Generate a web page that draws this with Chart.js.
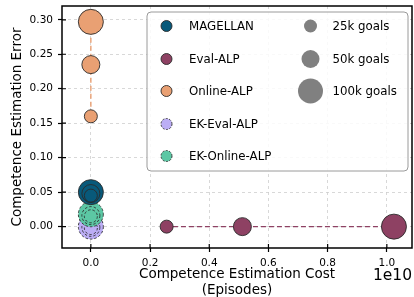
<!DOCTYPE html>
<html>
<head>
<meta charset="utf-8">
<script src="https://cdn.jsdelivr.net/npm/chart.js@4/dist/chart.umd.min.js"></script>
<style>
  html, body { margin: 0; padding: 0; background: #fff; }
  #wrap { width: 414px; height: 297px; }
</style>
</head>
<body>
<div id="wrap"><canvas id="chart" width="414" height="297"></canvas></div>
<script>
// ===============================
// DATA (points ordered 100k, 50k, 25k goals)
// ===============================
const goalSizes = ["100k goals", "50k goals", "25k goals"];

const magellanX = [0, 0, 0];
const magellanY = [0.050, 0.048, 0.045];

const evalAlpX = [1.024e10, 0.512e10, 0.256e10];
const evalAlpY = [0, 0, 0];

const onlineAlpX = [0, 0, 0];
const onlineAlpY = [0.297, 0.235, 0.160];

const ekEvalAlpX = [0, 0, 0];
const ekEvalAlpY = [0.000, -0.001, -0.002];

const ekOnlineAlpX = [0, 0, 0];
const ekOnlineAlpY = [0.018, 0.016, 0.015];

const xTickValues = [0, 0.2e10, 0.4e10, 0.6e10, 0.8e10, 1.0e10];
const yTickValues = [0, 0.05, 0.10, 0.15, 0.20, 0.25, 0.30];

// marker radius per goal count
const sizeRadius = { "25k goals": 6.5, "50k goals": 9, "100k goals": 12.5 };

const FONT = "'DejaVu Sans', sans-serif";

function toPoints(xs, ys) {
    return xs.map((x, i) => ({ x, y: ys[i] }));
}

function makeDataset(label, xs, ys, color, dashedEdge, order) {
    return {
        label,
        data: toPoints(xs, ys),
        showLine: true,
        borderColor: color,
        borderWidth: 1.4,
        borderDash: [5, 3],
        pointBackgroundColor: color,
        pointBorderColor: "#2b2b2b",
        pointBorderWidth: 0.9,
        pointRadius: goalSizes.map(s => sizeRadius[s]),
        pointHoverRadius: goalSizes.map(s => sizeRadius[s]),
        dashedEdge,
        order
    };
}

const series = [
    { label: "MAGELLAN", color: "#08597a", dashed: false },
    { label: "Eval-ALP", color: "#8e4163", dashed: false },
    { label: "Online-ALP", color: "#e9a073", dashed: false },
    { label: "EK-Eval-ALP", color: "#bcaef5", dashed: true },
    { label: "EK-Online-ALP", color: "#5cc7a4", dashed: true }
];

// ===============================
// PLUGINS
// ===============================
// dashed marker edges for EK datasets
const dashedEdges = {
    id: "dashedEdges",
    beforeDatasetDraw(chart, args) {
        const ds = chart.data.datasets[args.index];
        if (ds.dashedEdge) chart.ctx.setLineDash([2.5, 2]);
    },
    afterDatasetDraw(chart) {
        chart.ctx.setLineDash([]);
    }
};

// frame, inner tick parts, offset text and legend
const decorations = {
    id: "decorations",
    afterDraw(chart) {
        const ctx = chart.ctx;
        const a = chart.chartArea;
        const xs = chart.scales.x, ys = chart.scales.y;
        ctx.save();
        ctx.setLineDash([]);
        ctx.strokeStyle = "#000";
        ctx.lineWidth = 1.5;
        ctx.strokeRect(a.left, a.top, a.right - a.left, a.bottom - a.top);

        // ticks go through the spine
        ctx.lineWidth = 1.2;
        ctx.beginPath();
        xTickValues.forEach(v => {
            const px = xs.getPixelForValue(v);
            ctx.moveTo(px, a.bottom);
            ctx.lineTo(px, a.bottom - 4);
        });
        yTickValues.forEach(v => {
            const py = ys.getPixelForValue(v);
            ctx.moveTo(a.left, py);
            ctx.lineTo(a.left + 4, py);
        });
        ctx.stroke();

        // exponent text
        ctx.fillStyle = "#000";
        ctx.font = "15.5px " + FONT;
        ctx.textAlign = "right";
        ctx.textBaseline = "middle";
        ctx.fillText("1e10", a.right, 276);

        // legend box
        const bx = 147, by = 12, bw = 261, bh = 159;
        ctx.fillStyle = "rgba(255,255,255,0.85)";
        ctx.strokeStyle = "#9a9a9a";
        ctx.lineWidth = 1;
        ctx.beginPath();
        ctx.roundRect(bx, by, bw, bh, 4);
        ctx.fill();
        ctx.stroke();

        ctx.font = "11.8px " + FONT;
        ctx.textAlign = "left";
        const rowY = [26, 59, 91, 124, 156];
        series.forEach((s, i) => {
            ctx.beginPath();
            ctx.arc(166.5, rowY[i], 5.5, 0, Math.PI * 2);
            ctx.fillStyle = s.color;
            ctx.fill();
            ctx.setLineDash(s.dashed ? [2, 1.5] : []);
            ctx.strokeStyle = "#2b2b2b";
            ctx.lineWidth = 0.9;
            ctx.stroke();
            ctx.setLineDash([]);
            ctx.fillStyle = "#000";
            ctx.fillText(s.label, 189, rowY[i] + 0.5);
        });

        ["25k goals", "50k goals", "100k goals"].forEach((s, i) => {
            ctx.beginPath();
            ctx.arc(310.5, rowY[i], sizeRadius[s], 0, Math.PI * 2);
            ctx.fillStyle = "#808080";
            ctx.fill();
            ctx.fillStyle = "#000";
            ctx.fillText(s, 332.5, rowY[i] + 0.5);
        });
        ctx.restore();
    }
};

// ===============================
// CHART
// ===============================
const datasets = [
    makeDataset("MAGELLAN", magellanX, magellanY, series[0].color, false, 0),
    makeDataset("Eval-ALP", evalAlpX, evalAlpY, series[1].color, false, 4),
    makeDataset("Online-ALP", onlineAlpX, onlineAlpY, series[2].color, false, 3),
    makeDataset("EK-Eval-ALP", ekEvalAlpX, ekEvalAlpY, series[3].color, true, 2),
    makeDataset("EK-Online-ALP", ekOnlineAlpX, ekOnlineAlpY, series[4].color, true, 1)
];

function gridOpts() {
    return {
        color: "#cfcfcf",
        lineWidth: 0.8,
        tickColor: "#000",
        tickWidth: 1.2,
        tickLength: 4
    };
}

new Chart(document.getElementById("chart"), {
    type: "scatter",
    data: { datasets },
    options: {
        responsive: false,
        animation: false,
        events: [],
        layout: { autoPadding: false, padding: { top: 6, right: 2, left: 0, bottom: 0 } },
        plugins: {
            legend: { display: false },
            tooltip: { enabled: false }
        },
        scales: {
            x: {
                type: "linear",
                min: -0.0975e10,
                max: 1.085e10,
                afterBuildTicks: s => { s.ticks = xTickValues.map(v => ({ value: v })); },
                afterFit: s => {
                    s.height = 49;
                    s.paddingLeft = 0;
                    s.paddingRight = 0;
                },
                grid: gridOpts(),
                border: { display: false, dash: [3, 3] },
                ticks: {
                    color: "#000",
                    font: { family: FONT, size: 10.5 },
                    padding: 5,
                    maxRotation: 0,
                    callback: v => (v / 1e10).toFixed(1)
                },
                title: {
                    display: true,
                    text: ["Competence Estimation Cost", "(Episodes)"],
                    color: "#000",
                    font: { family: FONT, size: 13.5, lineHeight: 1.19 },
                    padding: { top: 0, bottom: -2 }
                }
            },
            y: {
                type: "linear",
                min: -0.031,
                max: 0.320,
                afterBuildTicks: s => { s.ticks = yTickValues.map(v => ({ value: v })); },
                afterFit: s => {
                    s.width = 62;
                    s.paddingTop = 0;
                    s.paddingBottom = 0;
                },
                grid: gridOpts(),
                border: { display: false, dash: [3, 3] },
                ticks: {
                    color: "#000",
                    font: { family: FONT, size: 10.5 },
                    padding: 5,
                    callback: v => v.toFixed(2)
                },
                title: {
                    display: true,
                    text: "Competence Estimation Error",
                    color: "#000",
                    font: { family: FONT, size: 13.5, lineHeight: 1.19 },
                    padding: { top: 9, bottom: 0 }
                }
            }
        }
    },
    plugins: [dashedEdges, decorations]
});
</script>
</body>
</html>
